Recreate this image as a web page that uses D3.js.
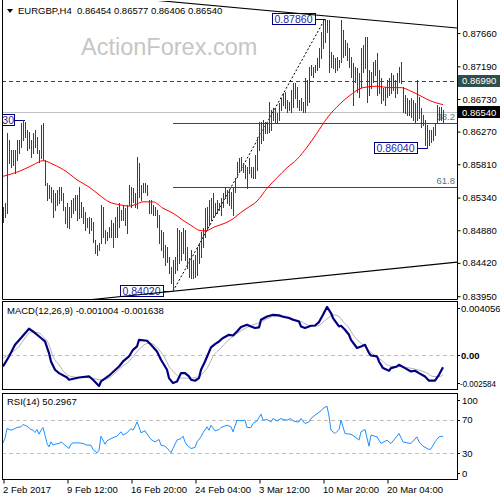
<!DOCTYPE html>
<html><head><meta charset="utf-8">
<script src="https://cdn.jsdelivr.net/npm/d3@7"></script>
<style>body{margin:0;background:#fff}svg{display:block}text{font-family:"Liberation Sans",Arial,sans-serif}</style>
</head><body><svg id="c" width="500" height="500"></svg>
<script>
// ---------- DATA ----------
const symbol = "EURGBP,H4";
const lastOHLC = ["0.86454","0.86577","0.86406","0.86540"];
const highs = [0.8521,0.8526,0.8625,0.8615,0.8601,0.8601,0.8601,0.8615,0.8615,0.8639,
0.8643,0.8641,0.8629,0.8626,0.8615,0.8625,0.8629,0.8619,0.8601,0.8636,
0.8639,0.8587,0.8555,0.8552,0.8549,0.8545,0.8540,0.8545,0.8549,0.8549,
0.8540,0.8521,0.8526,0.8521,0.8531,0.8533,0.8538,0.8538,0.8549,0.8528,
0.8521,0.8514,0.8505,0.8507,0.8505,0.8500,0.8474,0.8467,0.8470,0.8524,
0.8521,0.8488,0.8485,0.8493,0.8502,0.8498,0.8507,0.8521,0.8526,0.8517,
0.8524,0.8519,0.8524,0.8552,0.8549,0.8548,0.8540,0.8591,0.8583,0.8552,
0.8555,0.8555,0.8552,0.8531,0.8531,0.8524,0.8521,0.8517,0.8509,0.8488,
0.8485,0.8467,0.8464,0.8450,0.8436,0.8446,0.8450,0.8491,0.8488,0.8485,
0.8491,0.8488,0.8464,0.8449,0.8460,0.8446,0.8453,0.8464,0.8470,0.8485,
0.8491,0.8519,0.8521,0.8531,0.8533,0.8540,0.8526,0.8531,0.8526,0.8533,
0.8540,0.8549,0.8545,0.8545,0.8542,0.8549,0.8562,0.8584,0.8590,0.8591,
0.8583,0.8580,0.8577,0.8590,0.8577,0.8577,0.8594,0.8619,0.8641,0.8641,
0.8643,0.8641,0.8639,0.8669,0.8658,0.8660,0.8660,0.8653,0.8667,0.8674,
0.8681,0.8683,0.8672,0.8669,0.8686,0.8696,0.8696,0.8690,0.8672,0.8674,
0.8669,0.8703,0.8700,0.8718,0.8721,0.8718,0.8721,0.8731,0.8745,0.8767,
0.8784,0.8786,0.8784,0.8784,0.8739,0.8735,0.8731,0.8732,0.8728,0.8784,
0.8770,0.8756,0.8752,0.8745,0.8732,0.8724,0.8718,0.8717,0.8710,0.8745,
0.8749,0.8760,0.8760,0.8714,0.8711,0.8725,0.8728,0.8738,0.8714,0.8703,
0.8689,0.8690,0.8700,0.8703,0.8710,0.8707,0.8700,0.8710,0.8718,0.8725,
0.8690,0.8679,0.8674,0.8672,0.8674,0.8672,0.8667,0.8700,0.8676,0.8660,
0.8650,0.8643,0.8636,0.8629,0.8629,0.8634,0.8639,0.8665,0.8662,0.8662,
0.86577];
const lows = [0.8500,0.8507,0.8512,0.8583,0.8577,0.8580,0.8569,0.8587,0.8597,0.8605,
0.8615,0.8619,0.8601,0.8604,0.8591,0.8597,0.8605,0.8597,0.8584,0.8590,
0.8587,0.8552,0.8531,0.8533,0.8528,0.8507,0.8517,0.8524,0.8526,0.8531,
0.8517,0.8498,0.8493,0.8491,0.8507,0.8512,0.8517,0.8502,0.8505,0.8507,
0.8498,0.8488,0.8493,0.8484,0.8488,0.8471,0.8456,0.8453,0.8460,0.8470,
0.8478,0.8470,0.8474,0.8478,0.8478,0.8464,0.8478,0.8478,0.8493,0.8502,
0.8502,0.8495,0.8484,0.8524,0.8521,0.8528,0.8521,0.8519,0.8535,0.8531,
0.8542,0.8542,0.8538,0.8512,0.8512,0.8509,0.8509,0.8493,0.8470,0.8460,
0.8450,0.8439,0.8443,0.8428,0.8414,0.8402,0.8428,0.8432,0.8442,0.8446,
0.8456,0.8446,0.8435,0.8422,0.8421,0.8421,0.8422,0.8425,0.8442,0.8450,
0.8464,0.8478,0.8488,0.8495,0.8502,0.8507,0.8509,0.8512,0.8517,0.8509,
0.8521,0.8533,0.8526,0.8524,0.8519,0.8509,0.8542,0.8563,0.8570,0.8573,
0.8570,0.8562,0.8548,0.8569,0.8563,0.8562,0.8562,0.8573,0.8601,0.8611,
0.8615,0.8625,0.8625,0.8626,0.8629,0.8643,0.8641,0.8639,0.8643,0.8658,
0.8665,0.8660,0.8655,0.8658,0.8655,0.8662,0.8674,0.8662,0.8658,0.8658,
0.8655,0.8655,0.8665,0.8669,0.8707,0.8704,0.8711,0.8714,0.8718,0.8731,
0.8745,0.8753,0.8767,0.8711,0.8718,0.8717,0.8711,0.8714,0.8718,0.8725,
0.8732,0.8735,0.8728,0.8718,0.8704,0.8665,0.8697,0.8683,0.8676,0.8690,
0.8711,0.8717,0.8669,0.8679,0.8689,0.8697,0.8707,0.8679,0.8681,0.8667,
0.8672,0.8665,0.8676,0.8679,0.8681,0.8686,0.8676,0.8681,0.8697,0.8696,
0.8655,0.8653,0.8650,0.8650,0.8648,0.8643,0.8641,0.8643,0.8646,0.8634,
0.8636,0.8608,0.8604,0.8608,0.8612,0.8615,0.8622,0.8639,0.8643,0.8643,
0.86406];
// moving average (red), sampled bar index / value
const maIdx = [0,9,15,20,25,32,37,43,48,53,58,63,67,70,75,80,85,90,95,98,101,106,111,115,118,122,127,132,137,142,147,152,157,162,167,173,180,187,193,199,204,209,214,220];
const maVal = [0.8564,0.8572,0.8580,0.8586,0.8581,0.8570,0.8559,0.8549,0.8538,0.8528,0.8524,0.8522,0.8525,0.8528,0.8528,0.8519,0.8512,0.8502,0.8493,0.8488,0.8487,0.8493,0.8498,0.8504,0.8511,0.8519,0.8529,0.8547,0.8562,0.8576,0.8588,0.8605,0.8625,0.8646,0.8662,0.8677,0.8689,0.8691,0.8689,0.8689,0.8684,0.8677,0.8670,0.8665];
// x axis
const dateTickIdx = [0,32,64,96,128,160,192];
const dateTickLabels = ["2 Feb 2017","9 Feb 12:00","16 Feb 20:00","24 Feb 04:00","3 Mar 12:00","10 Mar 20:00","20 Mar 04:00"];
// price axis
const priceTicks = [0.8395,0.8442,0.8488,0.8534,0.8581,0.8627,0.8673,0.8719,0.8766];
const priceTickLabels = ["0.83950","0.84420","0.84880","0.85340","0.85810","0.86270","0.86730","0.87190","0.87660"];
const resistance = 0.8699, resistanceLabel = "0.86990";
const bid = 0.8654, bidLabel = "0.86540";
// annotations
const noteIdx = [161, 212, 85];
const notePrice = [0.8786, 0.8604, 0.8402];
const noteText = ["0.87860","0.86040","0.84020"];
const edgeNoteIdx = 11, edgeNotePrice = 0.8643, edgeNoteText = "30";
// trend lines [idx, price]
const topTrend = [[120,0.88008],[227,0.87731]];
const bottomTrend = [[85,0.8402],[227,0.8443]];
// fibonacci
const fibFrom = [85,0.8402], fibTo = [161,0.8786];
const fibLevels = [38.2, 61.8];
// MACD
const macdTitle = "MACD(12,26,9) -0.001004 -0.001638";
const macdIdx = [0,3,6,9,13,15,19,21,23,24,26,28,32,33,38,43,45,48,49,53,55,58,60,63,65,67,68,72,74,77,79,82,83,85,87,89,91,93,94,96,98,99,101,104,106,108,110,113,115,117,119,122,124,126,128,129,132,135,138,140,143,145,148,149,151,154,156,158,160,162,164,165,168,169,171,173,174,177,179,181,183,184,187,188,190,193,194,197,198,201,204,206,208,211,213,216,218,220];
const macdVal = [-0.00094,-0.00010,0.00088,0.00145,0.00223,0.00200,0.00145,0.00116,0.00018,-0.00052,-0.00122,-0.00150,-0.00187,-0.00206,-0.00187,-0.00178,-0.00206,-0.00258,-0.00220,-0.00172,-0.00141,-0.00094,-0.00052,-0.00010,0.00046,0.00074,0.00130,0.00122,0.00088,0.00032,-0.00038,-0.00122,-0.00192,-0.00234,-0.00220,-0.00150,-0.00150,-0.00178,-0.00206,-0.00214,-0.00192,-0.00122,-0.00052,0.00066,0.00094,0.00116,0.00145,0.00172,0.00166,0.00200,0.00237,0.00256,0.00242,0.00229,0.00234,0.00298,0.00326,0.00340,0.00335,0.00324,0.00313,0.00298,0.00284,0.00242,0.00229,0.00248,0.00250,0.00279,0.00340,0.00406,0.00355,0.00313,0.00242,0.00248,0.00214,0.00172,0.00130,0.00061,0.00074,0.00088,0.00018,-0.00002,-0.00010,-0.00052,-0.00108,-0.00130,-0.00108,-0.00094,-0.00080,-0.00108,-0.00136,-0.00130,-0.00150,-0.00178,-0.00214,-0.00214,-0.00164,-0.00100];
const sigIdx = [0,4,8,11,14,18,20,23,25,28,31,34,39,43,46,49,53,56,59,63,66,69,73,75,78,81,83,86,89,94,98,100,103,105,109,112,115,119,122,125,129,132,135,139,142,145,149,152,155,158,160,163,165,168,170,173,175,179,182,185,189,192,195,199,202,205,209,212,215,218,220];
const sigVal = [-0.00024,0.00018,0.00074,0.00145,0.00195,0.00187,0.00158,0.00088,-0.00010,-0.00080,-0.00150,-0.00178,-0.00187,-0.00183,-0.00198,-0.00206,-0.00192,-0.00150,-0.00103,-0.00052,0.00010,0.00066,0.00103,0.00094,0.00046,-0.00024,-0.00094,-0.00150,-0.00192,-0.00192,-0.00178,-0.00150,-0.00080,-0.00010,0.00061,0.00116,0.00158,0.00206,0.00234,0.00256,0.00279,0.00307,0.00326,0.00332,0.00326,0.00307,0.00284,0.00256,0.00242,0.00250,0.00279,0.00318,0.00340,0.00326,0.00284,0.00229,0.00172,0.00103,0.00055,0.00010,-0.00038,-0.00080,-0.00094,-0.00094,-0.00103,-0.00113,-0.00130,-0.00150,-0.00178,-0.00180,-0.00164];
const macdTicks = [0.004056, 0, -0.002584];
const macdTickLabels = ["0.004056","0.00","-0.002584"];
// RSI
const rsiTitle = "RSI(14) 50.2967";
const rsiIdx = [0,1,2,4,5,7,9,10,12,14,15,16,17,18,19,20,21,22,23,24,25,26,28,29,31,33,34,35,38,40,42,44,45,47,48,49,51,52,54,57,59,60,62,64,65,66,67,68,69,71,73,74,76,78,79,81,83,84,85,87,89,90,91,92,94,96,97,99,100,102,103,104,106,108,109,112,114,115,117,119,121,122,124,125,127,129,130,132,134,135,137,139,140,142,144,145,147,148,149,151,153,154,156,159,160,162,163,164,166,168,169,171,174,176,178,179,181,183,184,187,189,192,194,196,198,200,202,204,207,208,210,213,214,216,218,220];
const rsiVal = [42.5,47.6,59.4,57.4,58.2,60.6,61.4,64.1,62.1,58.2,57.4,54.7,58.2,52.7,57.4,60.6,51.6,41.8,37.8,43.7,39.8,41.0,41.8,43.7,39.8,35.9,41.0,42.5,42.5,41.8,39.8,39.8,34.7,30.8,33.9,50.4,41.0,44.9,47.6,50.4,55.5,51.6,54.3,59.4,57.4,61.4,67.2,61.4,54.3,56.7,49.6,46.5,43.7,46.5,39.8,38.6,33.9,30.8,35.9,45.7,47.6,50.4,43.7,39.8,35.9,37.1,43.7,49.6,54.3,61.4,57.4,63.3,56.7,58.2,60.6,63.3,61.4,55.5,69.2,68.4,69.2,60.6,60.6,65.3,68.4,76.3,69.2,70.0,67.2,71.2,68.4,71.2,70.0,69.2,71.2,68.4,67.2,67.2,71.2,65.3,67.2,71.2,75.1,80.2,82.9,85.7,73.9,57.4,53.5,58.2,69.2,53.5,52.7,49.6,45.7,55.5,58.2,38.6,51.6,49.6,41.8,45.7,41.8,47.6,53.5,43.7,42.5,41.8,49.6,43.7,38.6,34.7,35.5,43.7,49.6,50.3];
const rsiTicks = [100,70,30,0];
const rsiLevels = [70,30];

// ---------- LAYOUT ----------
const svg = d3.select("#c");
const L = 2, R = 457;
const mainP = {top:0, bottom:299}, macdP = {top:301, bottom:389}, rsiP = {top:393, bottom:479};
const x = d3.scaleLinear().domain([0,220]).range([3,443]);
const y = d3.scaleLinear().domain([0.8395,0.8766]).range([296.2,33]);
const yM = d3.scaleLinear().domain([-0.002584,0.004056]).range([386,307]);
const yR = d3.scaleLinear().domain([0,100]).range([479,394]);
const px = v => Math.round(v)+0.5;
const BAR = "#1d4b5e", SLATE = "#2f4f4f";

const defs = svg.append("defs");
[["cm",mainP],["cmacd",macdP],["crsi",rsiP]].forEach(([id,p])=>{
  defs.append("clipPath").attr("id",id).append("rect")
    .attr("x",L+1).attr("y",p.top+1).attr("width",R-L-1).attr("height",p.bottom-p.top-1);
});

// watermark
svg.append("text").attr("x",81).attr("y",55).attr("font-size",23.5).attr("fill","#c6c6c6").text("ActionForex.com");

// ---------- MAIN PANEL ----------
const gm = svg.append("g").attr("clip-path","url(#cm)");
gm.append("line").attr("x1",L).attr("x2",R).attr("y1",px(y(bid))).attr("y2",px(y(bid))).attr("stroke","#c0c0c0");
gm.append("line").attr("x1",L).attr("x2",R).attr("y1",px(y(resistance))).attr("y2",px(y(resistance)))
  .attr("stroke",SLATE).attr("stroke-dasharray","4,3");
const fibRange = fibTo[1]-fibFrom[1];
fibLevels.forEach(lv=>{
  const p = fibTo[1] - fibRange*lv/100;
  gm.append("line").attr("x1",x(fibFrom[0])).attr("x2",R).attr("y1",px(y(p))).attr("y2",px(y(p))).attr("stroke",SLATE);
  gm.append("text").attr("x",455).attr("y",y(p)-3).attr("text-anchor","end").attr("font-size",9.5)
    .attr("fill","#5a7482").text(lv.toFixed(1));
});
gm.append("line").attr("x1",x(fibFrom[0])).attr("y1",y(fibFrom[1])).attr("x2",x(fibTo[0])).attr("y2",y(fibTo[1]))
  .attr("stroke","#000").attr("stroke-dasharray","2,2");
function noteBox(i,p,t,w){
  const xr = x(i)-10, yc = Math.round(y(p));
  gm.append("line").attr("x1",xr).attr("x2",x(i)).attr("y1",yc+0.5).attr("y2",yc+0.5).attr("stroke","#000080");
  gm.append("rect").attr("x",Math.round(xr-w)+0.5).attr("y",yc-5.5).attr("width",w).attr("height",11)
    .attr("fill","#fff").attr("stroke","#000080");
  gm.append("text").attr("x",xr-w/2).attr("y",yc+4).attr("text-anchor","middle").attr("font-size",10.5)
    .attr("fill","#1f1fa8").text(t);
}
noteIdx.forEach((i,k)=>noteBox(i,notePrice[k],noteText[k],43));
{
  const xr = x(edgeNoteIdx)-10, yc = Math.round(y(edgeNotePrice));
  gm.append("line").attr("x1",xr).attr("x2",x(edgeNoteIdx)).attr("y1",yc+0.5).attr("y2",yc+0.5).attr("stroke","#000080");
  gm.append("rect").attr("x",-30.5).attr("y",yc-5.5).attr("width",xr+30).attr("height",11).attr("fill","#fff").attr("stroke","#000080");
  gm.append("text").attr("x",xr-1).attr("y",yc+4).attr("text-anchor","end").attr("font-size",10.5).attr("fill","#1f1fa8").text(edgeNoteText);
}
function trend(a){
  const s = (a[1][1]-a[0][1])/(a[1][0]-a[0][0]);
  const i0 = -10, i1 = 230;
  gm.append("line").attr("x1",x(i0)).attr("y1",y(a[0][1]+s*(i0-a[0][0])))
    .attr("x2",x(i1)).attr("y2",y(a[0][1]+s*(i1-a[0][0]))).attr("stroke","#000").attr("stroke-width",1.1);
}
trend(topTrend); trend(bottomTrend);
gm.append("g").selectAll("line").data(highs).join("line")
  .attr("x1",(d,i)=>px(x(i))).attr("x2",(d,i)=>px(x(i)))
  .attr("y1",d=>Math.round(y(d))).attr("y2",(d,i)=>Math.round(y(lows[i]))+1)
  .attr("stroke",BAR).attr("stroke-width",1);
gm.append("path").datum(maIdx.map((i,k)=>[i,maVal[k]]))
  .attr("d",d3.line().x(d=>x(d[0])).y(d=>y(d[1])).curve(d3.curveMonotoneX))
  .attr("fill","none").attr("stroke","#ff0000").attr("stroke-width",1);

// ---------- MACD ----------
const gmc = svg.append("g").attr("clip-path","url(#cmacd)");
gmc.append("line").attr("x1",L).attr("x2",R).attr("y1",px(yM(0))).attr("y2",px(yM(0))).attr("stroke","#c0c0c0").attr("stroke-dasharray","4,3");
gmc.append("path").datum(sigIdx.map((i,k)=>[i,sigVal[k]]))
  .attr("d",d3.line().x(d=>x(d[0])).y(d=>yM(d[1])).curve(d3.curveMonotoneX))
  .attr("fill","none").attr("stroke","#b4b4b4").attr("stroke-width",1);
gmc.append("path").datum(macdIdx.map((i,k)=>[i,macdVal[k]]))
  .attr("d",d3.line().x(d=>x(d[0])).y(d=>yM(d[1])))
  .attr("fill","none").attr("stroke","#000080").attr("stroke-width",2.2).attr("stroke-linejoin","round");

// ---------- RSI ----------
const grs = svg.append("g").attr("clip-path","url(#crsi)");
rsiLevels.forEach(v=>{
  grs.append("line").attr("x1",L).attr("x2",R).attr("y1",px(yR(v))).attr("y2",px(yR(v))).attr("stroke","#c0c0c0").attr("stroke-dasharray","4,3");
});
grs.append("path").datum(rsiIdx.map((i,k)=>[i,rsiVal[k]]))
  .attr("d",d3.line().x(d=>x(d[0])).y(d=>yR(d[1])))
  .attr("fill","none").attr("stroke","#1e90ff").attr("stroke-width",1);

// ---------- FRAMES ----------
const fr = svg.append("g").attr("fill","none").attr("stroke","#000");
fr.append("path").attr("d",`M${L+0.5},0V${mainP.bottom+0.5}H${R+0.5}V0`);
fr.append("rect").attr("x",L+0.5).attr("y",macdP.top+0.5).attr("width",R-L).attr("height",macdP.bottom-macdP.top);
fr.append("rect").attr("x",L+0.5).attr("y",rsiP.top+0.5).attr("width",R-L).attr("height",rsiP.bottom-rsiP.top);

// ---------- AXES ----------
const fs = 9.5;
const axMain = d3.axisRight(y).tickValues(priceTicks).tickFormat((d,i)=>priceTickLabels[i]).tickSize(3).tickPadding(2);
const gA = svg.append("g").attr("transform",`translate(${R+0.5},0)`).call(axMain);
gA.select(".domain").remove();
gA.selectAll("text").attr("font-size",fs).attr("font-family","Liberation Sans").attr("fill","#000").attr("x",5);
gA.selectAll("line").attr("stroke","#000");
[[resistance,resistanceLabel,SLATE],[bid,bidLabel,"#000"]].forEach(([v,t,c])=>{
  const yc = y(v);
  svg.append("rect").attr("x",R+1).attr("y",Math.round(yc)-6).attr("width",500-R).attr("height",12).attr("fill",c);
  svg.append("text").attr("x",R+5).attr("y",yc+3.5).attr("font-size",fs).attr("fill","#fff").text(t);
});
const macdLabelY = [yM(macdTicks[0])+1, yM(0), yM(macdTicks[2])-3];
macdTicks.forEach((v,k)=>{
  svg.append("line").attr("x1",R).attr("x2",R+3).attr("y1",px(macdLabelY[k])).attr("y2",px(macdLabelY[k])).attr("stroke","#000");
  const t = svg.append("text").attr("x",k===2?R+3:R+4).attr("y",macdLabelY[k]+3.5).attr("font-size",k===2?9:fs)
    .attr("font-weight",v===0?"bold":"normal").attr("fill","#000").text(macdTickLabels[k]);
  if (k===2) t.attr("textLength",36).attr("lengthAdjust","spacingAndGlyphs");
});
rsiTicks.forEach(v=>{
  const yy = v===100 ? yR(v)+6 : v===0 ? yR(v)-6 : yR(v);
  svg.append("line").attr("x1",R).attr("x2",R+3).attr("y1",px(yy)).attr("y2",px(yy)).attr("stroke","#000");
  svg.append("text").attr("x",R+5).attr("y",yy+3.5).attr("font-size",fs).attr("fill","#000").text(v);
});
const axX = d3.axisBottom(x).tickValues(dateTickIdx).tickFormat((d,i)=>dateTickLabels[i]).tickSize(4).tickPadding(3);
const gX = svg.append("g").attr("transform",`translate(0.5,${rsiP.bottom+0.5})`).call(axX);
gX.select(".domain").remove();
gX.selectAll("text").attr("font-size",fs).attr("font-family","Liberation Sans").attr("text-anchor","start").attr("x",-1).attr("fill","#000");
gX.selectAll("line").attr("stroke","#000");

// ---------- TITLES ----------
svg.append("path").attr("d","M7,9L13,9L10,13Z").attr("fill","#000");
svg.append("text").attr("x",18).attr("y",14).attr("font-size",fs).attr("fill","#000")
  .attr("xml:space","preserve").text(symbol+"  "+lastOHLC.join(" "));
svg.append("text").attr("x",7).attr("y",314).attr("font-size",fs).attr("fill","#000").text(macdTitle);
svg.append("text").attr("x",7).attr("y",405).attr("font-size",fs).attr("fill","#000").text(rsiTitle);
</script></body></html>
